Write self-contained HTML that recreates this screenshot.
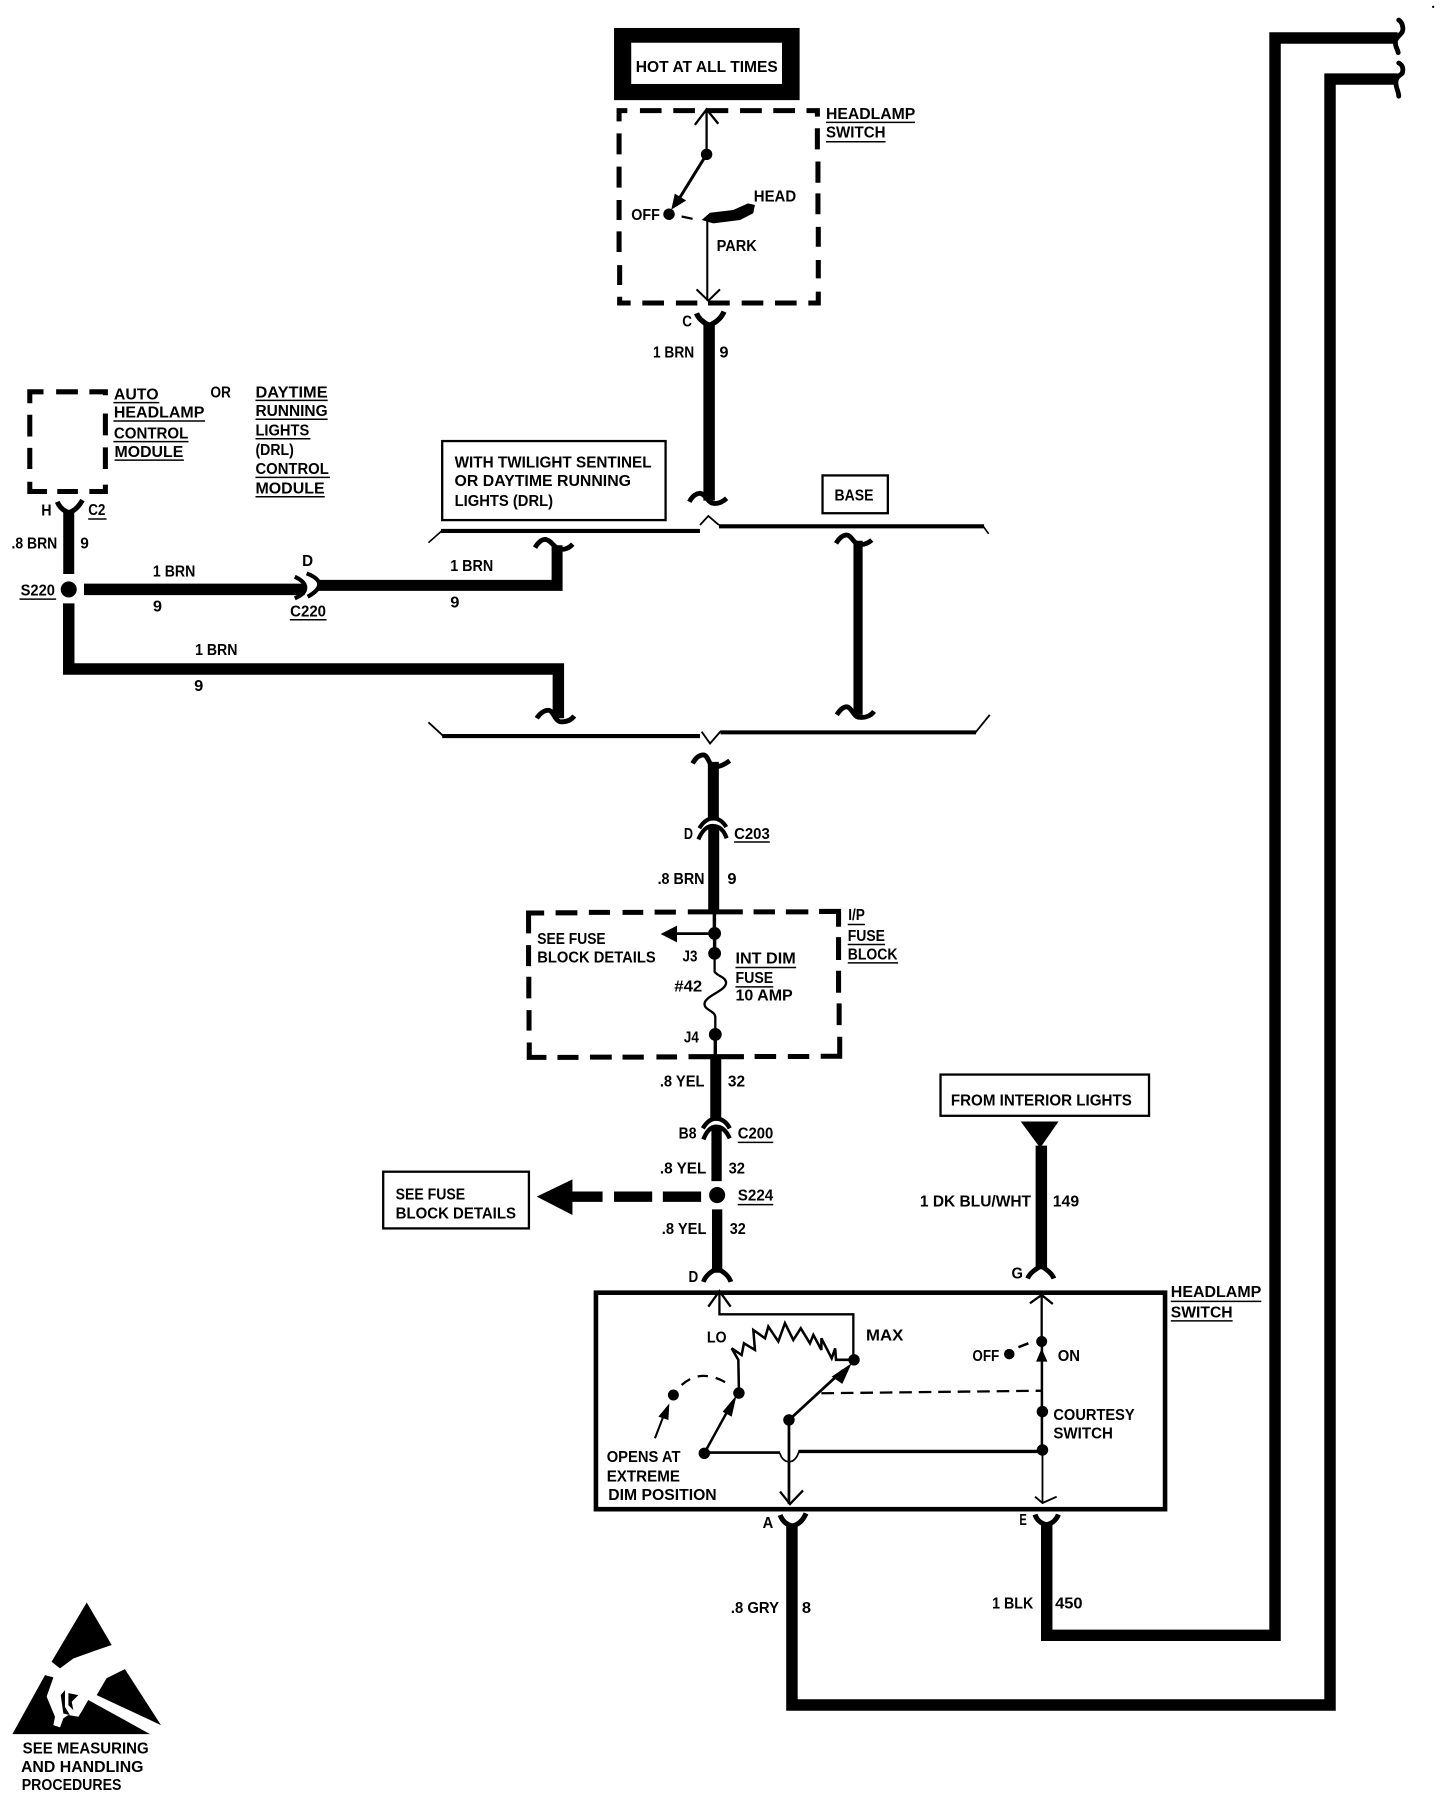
<!DOCTYPE html>
<html><head><meta charset="utf-8"><style>
html,body{margin:0;padding:0;background:#fff;width:1440px;height:1798px;overflow:hidden}
svg{display:block}
text{font-family:"Liberation Sans",sans-serif;font-weight:bold;font-size:13.5px;fill:#000}
.w{fill:none;stroke:#000;stroke-linejoin:miter}
.u{stroke:#000;stroke-width:1.3}
</style></head><body>
<svg width="1440" height="1798" viewBox="0 0 1257 1569.5" xmlns="http://www.w3.org/2000/svg">
<!-- hot box -->
<rect x="536" y="24.4" width="162" height="63" fill="#000"/>
<rect x="551" y="37.3" width="131.6" height="36" fill="#fff"/>
<text x="555" y="63" textLength="124" lengthAdjust="spacingAndGlyphs">HOT AT ALL TIMES</text>
<!-- headlamp switch dashed -->
<path d="M540.4 106V96.6H547.6M558.6 96.6H577.5M587.7 96.6H606.6M616.2 96.6H635.7M646 96.6H665M675 96.6H694M704 96.6H713.5V101.8M713.5 112V130.4M714 141V159.5M714 168.8V187M714.3 198V215.4M714.3 227V243M714.3 254.6V264.5H705.6M695.4 264.5H676.5M666.3 264.5H647.4M637 264.5H618M608.7 264.5H590M579.6 264.5H560.7M550.5 264.5H540.9V259M540.9 248.8V231.4M540.4 220V202M540.4 192V174.6M540.4 163.8V145.5M540.4 134.7V116.4" class="w" stroke-width="4.4"/>
<text x="721" y="104" textLength="78" lengthAdjust="spacingAndGlyphs">HEADLAMP</text><line x1="721" y1="106.8" x2="798.7" y2="106.8" class="u"/>
<text x="721" y="120" textLength="52" lengthAdjust="spacingAndGlyphs">SWITCH</text><line x1="721" y1="123.7" x2="773" y2="123.7" class="u"/>
<path d="M606.6 109L616.8 95.5L627 108M616.8 95.5V134.7" class="w" stroke-width="2"/>
<circle cx="616.8" cy="134.7" r="5"/>
<path d="M616.8 134.7L590 178" class="w" stroke-width="2.6"/>
<path d="M586 183L589 169L599 175Z"/>
<circle cx="584" cy="187" r="5"/>
<path d="M595 189L604.6 191" class="w" stroke-width="2"/>
<path d="M612.5 192L619.7 185.7L640 183.3L653 177.5L659 179L657.5 186.2L646 192L622.6 195Z"/>
<text x="551" y="192" textLength="25" lengthAdjust="spacingAndGlyphs">OFF</text>
<text x="658" y="176" textLength="37" lengthAdjust="spacingAndGlyphs">HEAD</text>
<text x="625.6" y="219" textLength="35" lengthAdjust="spacingAndGlyphs">PARK</text>
<path d="M617.4 192V262.5M608 252.6L618.3 262.5L628.5 252.6" class="w" stroke-width="1.8"/>
<!-- C conn + wire -->
<path d="M608 273.5C610 279 615 282 619 284C624 282 629 279 632 272" class="w" stroke-width="4.6"/>
<path d="M619 283V437" class="w" stroke-width="10"/>
<path d="M601.7 438C605 432 608 431 611 430.6C616 431 618 439 622.7 439.4C627 440 631 438 634.3 435" class="w" stroke-width="4.2"/>
<text x="595.5" y="285" textLength="8.5" lengthAdjust="spacingAndGlyphs">C</text>
<text x="570" y="312" textLength="36" lengthAdjust="spacingAndGlyphs">1 BRN</text>
<text x="628" y="312" textLength="8" lengthAdjust="spacingAndGlyphs">9</text>
<!-- twilight box -->
<rect x="386" y="385" width="195" height="69" class="w" stroke-width="2"/>
<text x="396.8" y="408" textLength="172" lengthAdjust="spacingAndGlyphs">WITH TWILIGHT SENTINEL</text>
<text x="396.8" y="424.3" textLength="154" lengthAdjust="spacingAndGlyphs">OR DAYTIME RUNNING</text>
<text x="396.8" y="441.7" textLength="86" lengthAdjust="spacingAndGlyphs">LIGHTS (DRL)</text>
<!-- BASE -->
<rect x="718" y="415" width="57" height="33" class="w" stroke-width="2"/>
<text x="728.5" y="437" textLength="34" lengthAdjust="spacingAndGlyphs">BASE</text>
<!-- buses -->
<path d="M374 473.7L385.5 463.5" class="w" stroke-width="1.4"/>
<path d="M385 463.5H611" class="w" stroke-width="3.6"/>
<path d="M611 458.3L618.3 450.4L627.6 458.3" class="w" stroke-width="1.6"/>
<path d="M627.6 459.4H859" class="w" stroke-width="3.6"/>
<path d="M858 459L863 466" class="w" stroke-width="1.4"/>
<path d="M374 630.5L387 642.5" class="w" stroke-width="1.6"/>
<path d="M386 642.5H611" class="w" stroke-width="3.6"/>
<path d="M612.5 638.7L619.8 649L629.4 638" class="w" stroke-width="1.6"/>
<path d="M629 639.3H852" class="w" stroke-width="3.6"/>
<path d="M851 640L864 624" class="w" stroke-width="1.6"/>
<!-- base wire -->
<path d="M749 472V624" class="w" stroke-width="8"/>
<path d="M729.8 474.3C733 469 736 467 739 467C743 467 745 474 749 475C754 476 758 474 761 471.4" class="w" stroke-width="4.2"/>
<path d="M730.4 624C733 620 736 617 739 617C743 617 745 625 749 626C755 627 760 625 763 621" class="w" stroke-width="4.2"/>
<!-- Auto module -->
<path d="M26 352V342H38M49 342H68M78 342H92V345M92 361V380M92 390.5V409.4M92 423V429H78M68 429H50M41 429H26V420.5M26 409.4V391M26 381V362" class="w" stroke-width="4.4"/>
<text x="99.4" y="348.6" textLength="39" lengthAdjust="spacingAndGlyphs">AUTO</text><line x1="99" y1="351.5" x2="139" y2="351.5" class="u"/>
<text x="99.4" y="364.6" textLength="79" lengthAdjust="spacingAndGlyphs">HEADLAMP</text><line x1="99" y1="367.5" x2="179" y2="367.5" class="u"/>
<text x="99.4" y="382.7" textLength="65" lengthAdjust="spacingAndGlyphs">CONTROL</text><line x1="99" y1="385.5" x2="164.5" y2="385.5" class="u"/>
<text x="100" y="399" textLength="60" lengthAdjust="spacingAndGlyphs">MODULE</text><line x1="100" y1="401.6" x2="160.5" y2="401.6" class="u"/>
<text x="183.6" y="347" textLength="18" lengthAdjust="spacingAndGlyphs">OR</text>
<text x="223" y="347" textLength="63" lengthAdjust="spacingAndGlyphs">DAYTIME</text><line x1="223" y1="349.5" x2="286" y2="349.5" class="u"/>
<text x="223" y="363" textLength="63" lengthAdjust="spacingAndGlyphs">RUNNING</text><line x1="223" y1="366" x2="286" y2="366" class="u"/>
<text x="223" y="380.3" textLength="47" lengthAdjust="spacingAndGlyphs">LIGHTS</text><line x1="223" y1="383" x2="271" y2="383" class="u"/>
<text x="223" y="397" textLength="33.5" lengthAdjust="spacingAndGlyphs">(DRL)</text>
<text x="223" y="413.8" textLength="64" lengthAdjust="spacingAndGlyphs">CONTROL</text><line x1="223" y1="416.7" x2="288" y2="416.7" class="u"/>
<text x="223" y="430.7" textLength="60.4" lengthAdjust="spacingAndGlyphs">MODULE</text><line x1="223" y1="433.6" x2="283.5" y2="433.6" class="u"/>
<!-- left wiring -->
<path d="M50 438C52 443 56 446 60 447.5C65 446 69 442 72 436.5" class="w" stroke-width="4.4"/>
<path d="M60 446V501" class="w" stroke-width="9.6"/>
<circle cx="60" cy="514.5" r="7"/>
<text x="36" y="450" textLength="9" lengthAdjust="spacingAndGlyphs">H</text>
<text x="77" y="449.6" textLength="15" lengthAdjust="spacingAndGlyphs">C2</text><line x1="77" y1="453" x2="93" y2="453" class="u"/>
<text x="10" y="479" textLength="40" lengthAdjust="spacingAndGlyphs">.8 BRN</text>
<text x="70" y="479" textLength="7.5" lengthAdjust="spacingAndGlyphs">9</text>
<text x="18" y="520" textLength="30" lengthAdjust="spacingAndGlyphs">S220</text><line x1="17" y1="523" x2="49" y2="523" class="u"/>
<path d="M73.3 514.5H266" class="w" stroke-width="10"/>
<path d="M257.3 503.4C263 506 266.5 509 266.5 513C266.5 517 263 520 257.3 522.3" class="w" stroke-width="3.6"/>
<path d="M267.7 500.5C274 503 278.6 506 278.6 510C278.6 514 274 518 268.5 520.9" class="w" stroke-width="3.6"/>
<text x="263.7" y="494" textLength="9.6" lengthAdjust="spacingAndGlyphs">D</text>
<text x="253.3" y="538.3" textLength="31.3" lengthAdjust="spacingAndGlyphs">C220</text><line x1="253" y1="541" x2="285" y2="541" class="u"/>
<text x="133.5" y="503.4" textLength="37" lengthAdjust="spacingAndGlyphs">1 BRN</text>
<text x="133.5" y="534" textLength="8" lengthAdjust="spacingAndGlyphs">9</text>
<path d="M277 511H486.3V476" class="w" stroke-width="9.6"/>
<path d="M467 478C470 473 473 471 475.7 470.8C481 471 484 479 489 479.5C494 480 497 478 500 475" class="w" stroke-width="4.2"/>
<text x="393" y="498.4" textLength="37.6" lengthAdjust="spacingAndGlyphs">1 BRN</text>
<text x="393" y="530.5" textLength="8" lengthAdjust="spacingAndGlyphs">9</text>
<path d="M60 526.7V584H487.4V627" class="w" stroke-width="10"/>
<path d="M468.5 627C471 623 475 620 478.6 620C483 620 484 629 489 630C495 630.5 499 628 501.3 625" class="w" stroke-width="4.2"/>
<text x="170.3" y="571.8" textLength="37" lengthAdjust="spacingAndGlyphs">1 BRN</text>
<text x="169.5" y="603" textLength="8" lengthAdjust="spacingAndGlyphs">9</text>
<!-- middle wire -->
<path d="M604.6 666.4C607 662 610 659 614 659C618 659 619 668 622.7 669.3C628 670 633 667 637 664" class="w" stroke-width="4.2"/>
<path d="M622.7 665V716" class="w" stroke-width="9.6"/>
<path d="M610.5 723C614 717 618 714.4 622.7 714.4C627 714.4 631 717 634 722" class="w" stroke-width="3.6"/>
<path d="M609.6 732.7C613 725 617 721 622 721C628 721 632 725 634.3 731.8" class="w" stroke-width="3.6"/>
<path d="M623 722V796" class="w" stroke-width="9.6"/>
<text x="597" y="732.4" textLength="8" lengthAdjust="spacingAndGlyphs">D</text>
<text x="640.8" y="732.4" textLength="31.2" lengthAdjust="spacingAndGlyphs">C203</text><line x1="640.8" y1="735" x2="672" y2="735" class="u"/>
<text x="574" y="771.7" textLength="41" lengthAdjust="spacingAndGlyphs">.8 BRN</text>
<text x="635" y="771.7" textLength="8" lengthAdjust="spacingAndGlyphs">9</text>
<!-- fuse block -->
<path d="M461.4 814.8V797H475M485 796.8H504M514 796.4H532.5M543.4 796.4H561.5M571.4 796.2H590M600.4 796H648.4M657.8 796H676.5M686 796H705.6M715 795.6H732V809M732 818V838M732 847.4V866.6M732.5 875.9V894.8M733 905V922H716.4M706.4 922.2H687.7M677.5 922.2H658.7M649.4 922.4H601M591 922.6H573M562 922.8H543.4M534 922.8H515M505 923H486.6M477 923H462V910M461.8 899.7V881.7M461.6 871.5V852.6M461.4 843.3V825" class="w" stroke-width="4.4"/>
<path d="M623.6 797V814" class="w" stroke-width="3"/>
<circle cx="623.8" cy="814.8" r="5.6"/>
<path d="M623 815H590" class="w" stroke-width="2.4"/>
<path d="M576.7 815.3L591 808V822.6Z"/>
<path d="M623.8 815V832" class="w" stroke-width="3"/>
<circle cx="623.8" cy="832.2" r="5.6"/>
<path d="M623.8 832V848.2C626 852 634 853 633.8 858C633.5 865 616 869 615 876C614.5 882 624.4 882 624.4 888V903" class="w" stroke-width="2"/>
<circle cx="624.4" cy="903" r="5.6"/>
<path d="M624.4 903V922" class="w" stroke-width="3"/>
<text x="469" y="824" textLength="59.7" lengthAdjust="spacingAndGlyphs">SEE FUSE</text>
<text x="469" y="840.4" textLength="103.4" lengthAdjust="spacingAndGlyphs">BLOCK DETAILS</text>
<text x="595.8" y="839.5" textLength="13" lengthAdjust="spacingAndGlyphs">J3</text>
<text x="588.6" y="865.7" textLength="24.4" lengthAdjust="spacingAndGlyphs">#42</text>
<text x="597" y="910" textLength="13" lengthAdjust="spacingAndGlyphs">J4</text>
<text x="642" y="841" textLength="52.6" lengthAdjust="spacingAndGlyphs">INT DIM</text><line x1="642" y1="844.5" x2="695" y2="844.5" class="u"/>
<text x="642" y="858" textLength="33" lengthAdjust="spacingAndGlyphs">FUSE</text><line x1="642" y1="861.5" x2="675" y2="861.5" class="u"/>
<text x="642" y="873.5" textLength="50" lengthAdjust="spacingAndGlyphs">10 AMP</text>
<text x="740.4" y="803" textLength="14.6" lengthAdjust="spacingAndGlyphs">I/P</text><line x1="740" y1="807" x2="755" y2="807" class="u"/>
<text x="740" y="821.5" textLength="32.5" lengthAdjust="spacingAndGlyphs">FUSE</text><line x1="740" y1="824.5" x2="772.5" y2="824.5" class="u"/>
<text x="740" y="837.5" textLength="43.5" lengthAdjust="spacingAndGlyphs">BLOCK</text><line x1="740" y1="840.5" x2="784" y2="840.5" class="u"/>
<!-- lower chain -->
<path d="M624.8 922V978" class="w" stroke-width="9.6"/>
<text x="576" y="948.6" textLength="39" lengthAdjust="spacingAndGlyphs">.8 YEL</text>
<text x="635.4" y="948.6" textLength="15" lengthAdjust="spacingAndGlyphs">32</text>
<path d="M613.5 985C617 979 621 976.5 625 976.5C630 976.5 634 979 637 985" class="w" stroke-width="3.8"/>
<path d="M614 994.6C617 987 621 983.5 625 983.5C630 983.5 634 987 637 993.7" class="w" stroke-width="3.8"/>
<path d="M625.5 984V1031" class="w" stroke-width="9"/>
<text x="592.4" y="993.7" textLength="15.6" lengthAdjust="spacingAndGlyphs">B8</text>
<text x="644" y="993.7" textLength="31" lengthAdjust="spacingAndGlyphs">C200</text><line x1="644" y1="997.2" x2="675" y2="997.2" class="u"/>
<text x="576" y="1024.3" textLength="40.6" lengthAdjust="spacingAndGlyphs">.8 YEL</text>
<text x="636" y="1024.3" textLength="14.3" lengthAdjust="spacingAndGlyphs">32</text>
<circle cx="626" cy="1043.2" r="7"/>
<text x="644" y="1048" textLength="31" lengthAdjust="spacingAndGlyphs">S224</text><line x1="644" y1="1051.5" x2="675" y2="1051.5" class="u"/>
<path d="M578.6 1044.6H612M536 1044.6H569.3M498 1044.6H526" class="w" stroke-width="9"/>
<path d="M468.5 1044.6L499.7 1029.5V1060.6Z"/>
<rect x="334.5" y="1022.8" width="127.2" height="49.5" class="w" stroke-width="2"/>
<text x="345.4" y="1047" textLength="60.6" lengthAdjust="spacingAndGlyphs">SEE FUSE</text>
<text x="345.4" y="1063.6" textLength="105" lengthAdjust="spacingAndGlyphs">BLOCK DETAILS</text>
<path d="M626 1055.7V1111" class="w" stroke-width="9"/>
<path d="M614 1119C616 1113 621 1110 626 1107C631 1110 636 1113 638 1119" class="w" stroke-width="4.2"/>
<text x="577.7" y="1077" textLength="39" lengthAdjust="spacingAndGlyphs">.8 YEL</text>
<text x="637" y="1077" textLength="14" lengthAdjust="spacingAndGlyphs">32</text>
<text x="601" y="1119" textLength="8.5" lengthAdjust="spacingAndGlyphs">D</text>
<!-- interior lights -->
<rect x="821" y="938" width="182" height="36" class="w" stroke-width="2"/>
<text x="830" y="965" textLength="158" lengthAdjust="spacingAndGlyphs">FROM INTERIOR LIGHTS</text>
<path d="M891 979H924L908 1002Z"/>
<path d="M909 1000V1108" class="w" stroke-width="10"/>
<path d="M897 1116C899 1111 904 1108 909 1105C913 1108 918 1111 920 1116" class="w" stroke-width="4.2"/>
<text x="803" y="1053" textLength="97" lengthAdjust="spacingAndGlyphs">1 DK BLU/WHT</text>
<text x="919" y="1053" textLength="23" lengthAdjust="spacingAndGlyphs">149</text>
<text x="883" y="1116" textLength="10" lengthAdjust="spacingAndGlyphs">G</text>
<!-- switch box -->
<rect x="520.2" y="1128.4" width="496.8" height="189" class="w" stroke-width="4"/>
<text x="1022" y="1132" textLength="79" lengthAdjust="spacingAndGlyphs">HEADLAMP</text><line x1="1022" y1="1136" x2="1101" y2="1136" class="u"/>
<text x="1022" y="1150" textLength="54" lengthAdjust="spacingAndGlyphs">SWITCH</text><line x1="1022" y1="1153" x2="1076" y2="1153" class="u"/>
<path d="M618.3 1140.6L628 1127L637.8 1140.6M628 1127V1147.3H744.9V1187" class="w" stroke-width="2"/>
<path d="M645 1213.3L644.5 1187L638.7 1177L647.4 1182.8L649.4 1172.6L659 1178.4L657.6 1161L667.8 1168.2L670.7 1158L679.4 1171L685.2 1155L692.5 1169.7L699 1159.5L707 1172.6L710 1165.3L717 1178.4L717 1168.2L726 1185.7L729 1177L729.8 1187L742 1187" class="w" stroke-width="2.2"/>
<circle cx="745.5" cy="1187" r="5"/>
<circle cx="645" cy="1216" r="5"/>
<text x="617" y="1171.7" textLength="17.3" lengthAdjust="spacingAndGlyphs">LO</text>
<text x="756" y="1170" textLength="32.5" lengthAdjust="spacingAndGlyphs">MAX</text>
<path d="M688.7 1239.5L736 1196" class="w" stroke-width="2.4"/>
<path d="M743.4 1190L726 1201.7L735.3 1208Z"/>
<path d="M614.8 1268.6L636 1230" class="w" stroke-width="2.2"/>
<path d="M643 1217.7L630.8 1232.3L638.7 1236.6Z"/>
<circle cx="688.7" cy="1239.5" r="5"/>
<circle cx="614.8" cy="1268.6" r="5"/>
<circle cx="587.8" cy="1217.7" r="4.8"/>
<path d="M595 1209Q613 1193 637 1209" class="w" stroke-width="2" stroke-dasharray="9 7"/>
<path d="M571.7 1255.5L580 1234" class="w" stroke-width="1.8"/>
<path d="M584.3 1225L574.7 1236.6L583.4 1239.5Z"/>
<path d="M717 1216.2L909.3 1214" class="w" stroke-width="2" stroke-dasharray="11 6"/>
<path d="M688.7 1239.5V1313" class="w" stroke-width="2.4"/>
<path d="M680.9 1302L689.6 1312.9L701 1301" class="w" stroke-width="2"/>
<path d="M614.8 1268H681" class="w" stroke-width="2.3"/>
<path d="M680.9 1268.6C682 1273 685 1276 688.7 1276C693 1276 696 1272 697.7 1266.3" class="w" stroke-width="1.5"/>
<path d="M697 1267H910" class="w" stroke-width="3"/>
<text x="529.6" y="1276" textLength="64.4" lengthAdjust="spacingAndGlyphs">OPENS AT</text>
<text x="529.6" y="1293.4" textLength="64" lengthAdjust="spacingAndGlyphs">EXTREME</text>
<text x="531" y="1309.4" textLength="94.6" lengthAdjust="spacingAndGlyphs">DIM POSITION</text>
<path d="M899 1137.7L909.3 1130.4L919 1138.3M909.3 1130.4V1171" class="w" stroke-width="2"/>
<circle cx="909.3" cy="1171" r="4.8"/>
<path d="M909.3 1177L904.4 1188.6H914.3Z"/>
<path d="M909.5 1171V1265" class="w" stroke-width="2.2"/>
<circle cx="909.9" cy="1232.2" r="5"/>
<circle cx="910" cy="1265.7" r="5"/>
<path d="M910 1265.7V1312M903.5 1306.5L910 1312L922.4 1306.5" class="w" stroke-width="1.6"/>
<circle cx="881" cy="1182" r="4.6"/>
<path d="M889 1176L897.7 1172.6" class="w" stroke-width="2.2"/>
<text x="848.8" y="1188" textLength="23.5" lengthAdjust="spacingAndGlyphs">OFF</text>
<text x="923.3" y="1188" textLength="19.5" lengthAdjust="spacingAndGlyphs">ON</text>
<text x="919.5" y="1239.5" textLength="71" lengthAdjust="spacingAndGlyphs">COURTESY</text>
<text x="919.5" y="1255.5" textLength="52" lengthAdjust="spacingAndGlyphs">SWITCH</text>
<!-- outputs -->
<path d="M681 1322.5C683 1328 687 1331 691.5 1332C697 1331 701 1327 703.6 1321" class="w" stroke-width="4.4"/>
<path d="M903.5 1322C905 1327 909 1330 913.7 1331C918 1330 922 1327 923.9 1322" class="w" stroke-width="4.4"/>
<path d="M691.3 1331V1488.3H1161V69H1220" class="w" stroke-width="10"/>
<path d="M913.7 1330V1427.5H1113V33.2H1220" class="w" stroke-width="10"/>
<path d="M1221 17.5C1225 20 1225 26 1224 28C1222 31 1218 33 1218 37C1218 41 1220 43 1220.5 46" class="w" stroke-width="4.2" stroke-linecap="round"/>
<path d="M1221 55C1225 57 1225 61 1224 64C1222 66 1218.5 67 1218.5 72C1218.5 77 1221 80 1221 84" class="w" stroke-width="4.2" stroke-linecap="round"/>
<text x="665.7" y="1334" textLength="9.3" lengthAdjust="spacingAndGlyphs">A</text>
<text x="889.8" y="1331" textLength="6.5" lengthAdjust="spacingAndGlyphs">E</text>
<text x="638" y="1408" textLength="42" lengthAdjust="spacingAndGlyphs">.8 GRY</text>
<text x="700" y="1408" textLength="8" lengthAdjust="spacingAndGlyphs">8</text>
<text x="866" y="1404" textLength="36" lengthAdjust="spacingAndGlyphs">1 BLK</text>
<text x="921" y="1404" textLength="24" lengthAdjust="spacingAndGlyphs">450</text>
<circle cx="1251" cy="6" r="1"/>
<!-- ESD symbol -->
<path d="M75.7 1398.8L97.5 1436L84.4 1440.4L64 1447.7L52.4 1456.4L45 1450.6Z"/>
<path d="M10.8 1513.7L39.3 1462.2L46.6 1464.2L40.7 1481L48 1498.6L46.6 1505.9L52.4 1507.9L55.3 1500L59.7 1497L68.4 1498.6L71.3 1494L77 1484L131 1513.7Z"/>
<path d="M84.4 1479.7L93 1465L109 1457L140.5 1505.9Z"/>
<path d="M53 1479.7L56.7 1475.3L56.7 1490L61 1497L55.3 1495.7Z"/>
<path d="M59.7 1478L68.4 1479.7L62.6 1485.5L64 1492.8L59.7 1488.4Z"/>
<text x="19.8" y="1530.6" textLength="110" lengthAdjust="spacingAndGlyphs">SEE MEASURING</text>
<text x="18.3" y="1546.6" textLength="107" lengthAdjust="spacingAndGlyphs">AND HANDLING</text>
<text x="19" y="1562.6" textLength="87" lengthAdjust="spacingAndGlyphs">PROCEDURES</text>
</svg>
</body></html>
